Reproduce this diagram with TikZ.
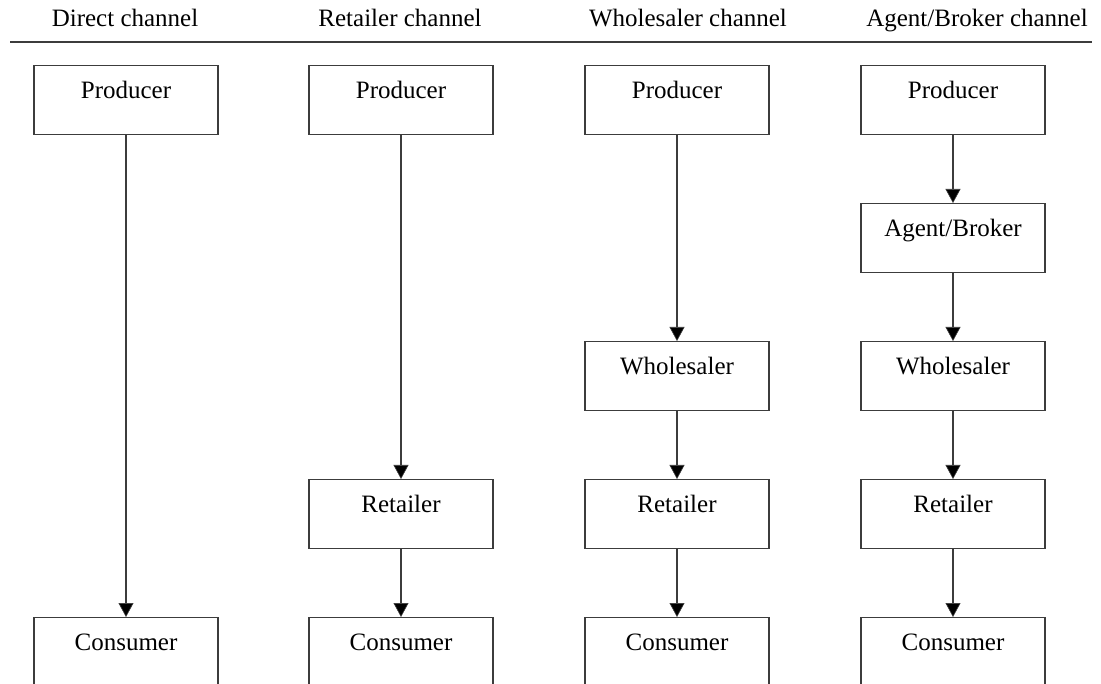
\documentclass[tikz,border=0pt]{standalone}
\usepackage{fontspec}
\setmainfont{Liberation Serif}
\usetikzlibrary{arrows.meta}
\definecolor{edge}{HTML}{3C3C3C}
\tikzset{
  stage/.style={draw=edge, line width=1.4pt, rectangle, minimum width=184pt,
    inner xsep=0pt, inner ysep=0pt, text height=33pt, text depth=36pt,
    font=\fontsize{25}{30}\selectfont, anchor=north},
  head/.style={font=\fontsize{25}{30}\selectfont, anchor=base},
  flow/.style={draw=edge, line width=1.4pt,
    -{Triangle[width=15pt,length=14pt,fill=black,line width=0.6pt]}},
  rule/.style={draw=edge, line width=1.6pt}
}
\begin{document}
\begin{tikzpicture}[x=1pt,y=-1pt]
\useasboundingbox (0,0) rectangle (1101,684);
\clip (0,0) rectangle (1101,684);
% column headings and the rule under them
\node[head] (h1) at (125,27) {Direct channel};
\node[head] (h2) at (400,27) {Retailer channel};
\node[head] (h3) at (688,27) {Wholesaler channel};
\node[head] (h4) at (977,27) {Agent/Broker channel};
\coordinate (rl) at (10,42);
\coordinate (rr) at (1092,42);
\draw[rule] (rl) -- (rr);
% direct channel
\node[stage] (p1) at (126,65) {Producer};
\node[stage] (c1) at (126,617) {Consumer};
\draw[flow] (p1) -- (c1);
% retailer channel
\node[stage] (p2) at (401,65) {Producer};
\node[stage] (r2) at (401,479) {Retailer};
\node[stage] (c2) at (401,617) {Consumer};
\draw[flow] (p2) -- (r2);
\draw[flow] (r2) -- (c2);
% wholesaler channel
\node[stage] (p3) at (677,65) {Producer};
\node[stage] (w3) at (677,341) {Wholesaler};
\node[stage] (r3) at (677,479) {Retailer};
\node[stage] (c3) at (677,617) {Consumer};
\draw[flow] (p3) -- (w3);
\draw[flow] (w3) -- (r3);
\draw[flow] (r3) -- (c3);
% agent/broker channel
\node[stage] (p4) at (953,65) {Producer};
\node[stage] (a4) at (953,203) {Agent/Broker};
\node[stage] (w4) at (953,341) {Wholesaler};
\node[stage] (r4) at (953,479) {Retailer};
\node[stage] (c4) at (953,617) {Consumer};
\draw[flow] (p4) -- (a4);
\draw[flow] (a4) -- (w4);
\draw[flow] (w4) -- (r4);
\draw[flow] (r4) -- (c4);
\end{tikzpicture}
\end{document}
